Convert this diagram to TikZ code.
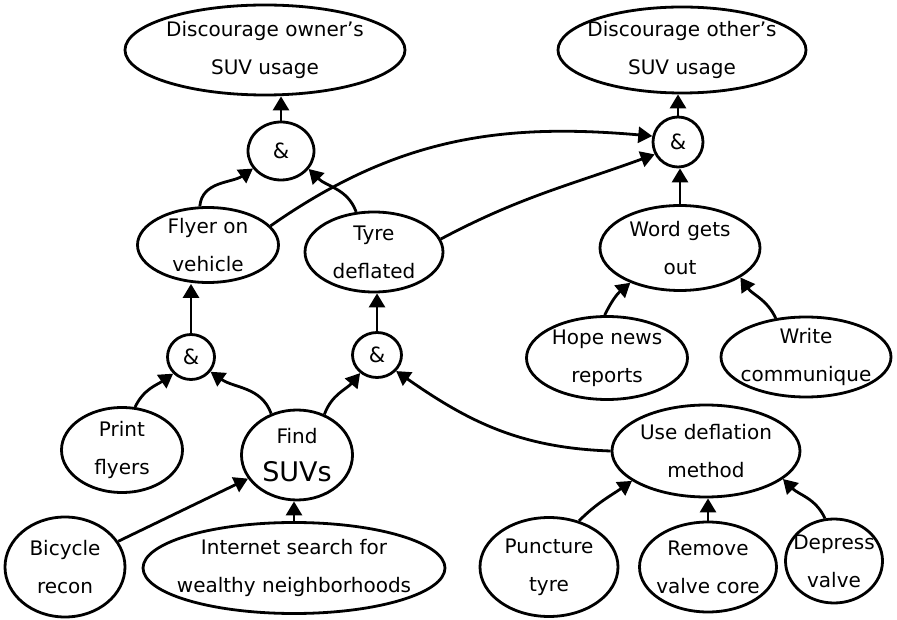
\documentclass[tikz,border=0pt]{standalone}
\usepackage{fontspec}
\setmainfont{DejaVu Sans}
\usetikzlibrary{shapes.geometric,arrows.meta}
\tikzset{
  goal/.style={ellipse,draw,line width=2.8pt,inner sep=0pt},
  txt/.style={align=center,inner sep=0pt,font=\fontsize{20}{38}\selectfont},
  andgate/.style={ellipse,draw,line width=2.8pt,inner sep=0pt,
    font=\fontsize{21}{24}\selectfont},
  arr/.style={line width=2.8pt,-{Triangle[length=14pt,width=16pt]}}
}
\begin{document}
\begin{tikzpicture}[x=1pt,y=1pt]
\useasboundingbox (0,0) rectangle (897,619);
% goals
\node[goal,minimum width=280,minimum height=90,label={[txt]center:Discourage owner's\\SUV usage}] (own) at (265,569) {};
\node[goal,minimum width=248,minimum height=86,label={[txt]center:Discourage other's\\SUV usage}] (oth) at (682,569) {};
\node[andgate,minimum width=66,minimum height=58] (ando) at (281,468) {\&};
\node[andgate,minimum width=50,minimum height=50] (andt) at (678,477) {\&};
\node[goal,minimum width=141,minimum height=75,label={[txt]center:Flyer on\\vehicle}] (flyer) at (208,374) {};
\node[goal,minimum width=138,minimum height=80,label={[txt]center:Tyre\\deflated}] (tyre) at (374,367) {};
\node[andgate,minimum width=47,minimum height=45] (andf) at (191,262) {\&};
\node[andgate,minimum width=49,minimum height=45] (andd) at (377,264) {\&};
\node[goal,minimum width=160,minimum height=85,label={[txt]center:Word gets\\out}] (word) at (680,371) {};
\node[goal,minimum width=161,minimum height=83,label={[txt]center:Hope news\\reports}] (hope) at (607,261) {};
\node[goal,minimum width=170,minimum height=80,label={[txt]center:Write\\communique}] (write) at (806,262) {};
\node[goal,minimum width=121,minimum height=85,label={[txt]center:Print\\flyers}] (print) at (122,169) {};
\node[goal,minimum width=111,minimum height=90,label={[txt]center:Find\\{\fontsize{27}{30}\selectfont SUVs}}] (find) at (297,164) {};
\node[goal,minimum width=120,minimum height=100,label={[txt]center:Bicycle\\recon}] (bike) at (65,52) {};
\node[goal,minimum width=302,minimum height=91,label={[txt]center:Internet search for\\wealthy neighborhoods}] (inet) at (294,51) {};
\node[goal,minimum width=188,minimum height=92,label={[txt]center:Use deflation\\method}] (use) at (706,168) {};
\node[goal,minimum width=138,minimum height=99,label={[txt]center:Puncture\\tyre}] (punct) at (549,52) {};
\node[goal,minimum width=137,minimum height=90,label={[txt]center:Remove\\valve core}] (remove) at (708,52) {};
\node[goal,minimum width=97,minimum height=84,label={[txt]center:Depress\\valve}] (depress) at (834,58) {};
% connectors
\draw[arr] (ando.north) -- (ando.north |- own.south);
\draw[arr] (andt.north) -- (andt.north |- oth.south);
\draw[arr] (word.north) -- (word.north |- andt.south);
\draw[arr] (andf.north) -- (andf.north |- flyer.south);
\draw[arr] (andd.north) -- (andd.north |- tyre.south);
\draw[arr] (inet.north) -- (inet.north |- find.south);
\draw[arr] (remove.north) -- (remove.north |- use.south);
\draw[arr] (bike) -- (find);
\draw[arr] (punct.57) to[out=45,in=215] (use.202);
\draw[arr] (depress.102) to[out=115,in=-45] (use.340);
\draw[arr] (hope.93) to[out=65,in=220] (word.215);
\draw[arr] (write.128) to[out=115,in=-55] (word.334);
\draw[arr] (flyer.102) to[out=85,in=215] (ando.212);
\draw[arr] (tyre.114) to[out=110,in=-45] (ando.327);
\draw[arr] (flyer.17) to[out=35,in=175] (andt.167);
\draw[arr] (tyre.11) to[out=28,in=200] (andt.208);
\draw[arr] (print.73) to[out=65,in=215] (andf.223);
\draw[arr] (find.122) to[out=110,in=-35] (andf.323);
\draw[arr] (find.56) to[out=70,in=230] (andd.227);
\draw[arr] (use.180) to[out=178,in=-35] (andd.320);
\end{tikzpicture}
\end{document}
